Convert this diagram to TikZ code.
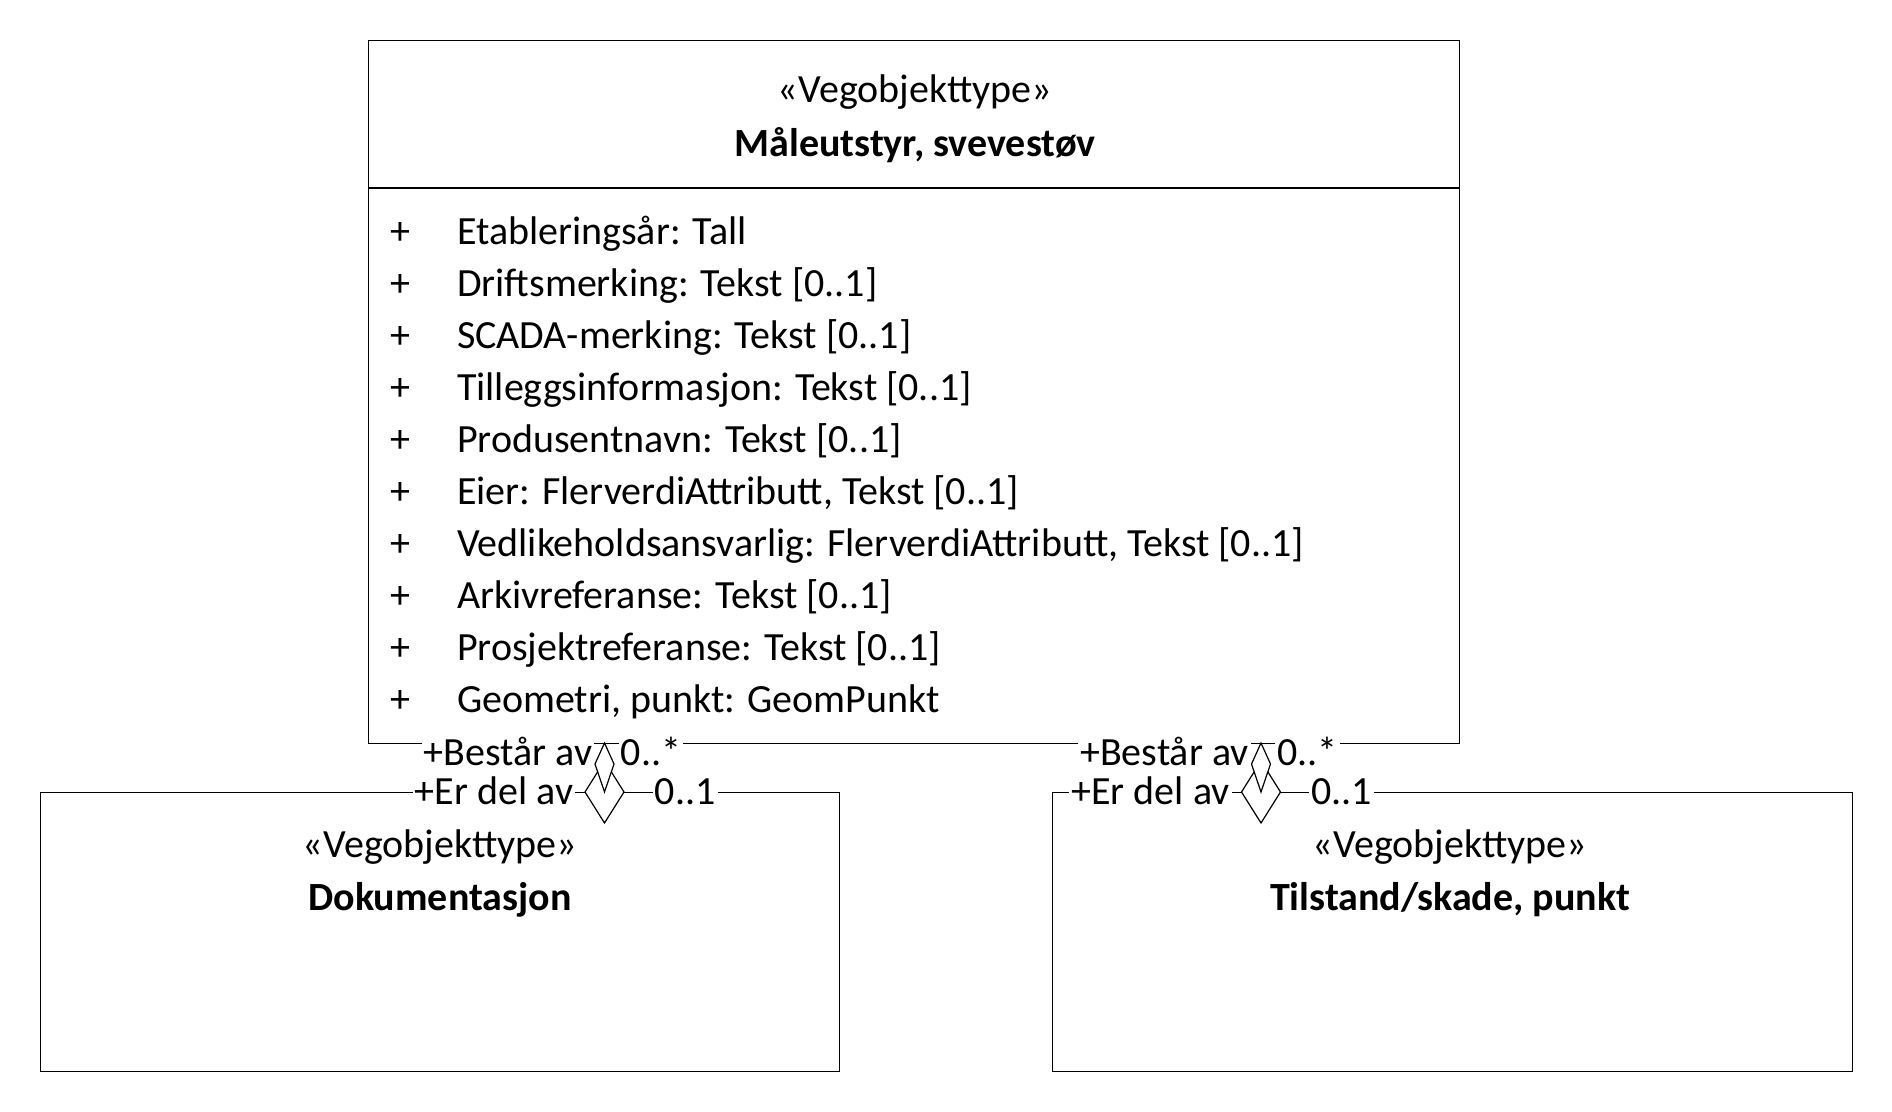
\documentclass[tikz,border=0pt]{standalone}
\usepackage{fontspec}
\setmainfont{Carlito}
\tikzset{
  klasse/.style={draw, line width=0.7pt, anchor=north west, inner sep=0pt},
  rolle/.style={fill=white, inner xsep=1pt, inner ysep=0.5pt},
  diamant/.style={draw, fill=white, line width=0.6pt},
  fet/.style={font=\fontsize{20}{24}\selectfont\bfseries},
}
\begin{document}
\begin{tikzpicture}[x=0.5pt, y=-0.5pt, font=\fontsize{20}{24}\selectfont]
  \useasboundingbox (0,0) rectangle (1892,1112);

  \node [klasse, minimum width=545.5pt, minimum height=351.5pt] (maale) at (368,40) {};
  \node [klasse, minimum width=399.5pt, minimum height=139.5pt] (dok) at (40,792) {};
  \node [klasse, minimum width=400pt, minimum height=139.5pt] (tilstand) at (1052,792) {};
  \draw [line width=0.7pt] (maale.west |- 0,188) -- (maale.east |- 0,188);

  \node [anchor=base] (stereo) at (915,103) {«Vegobjekttype»};
  \node [anchor=base, fet] (tittel) at (915,157) {Måleutstyr, svevestøv};
  \foreach \attr [count=\i from 0] in {{Etableringsår: Tall}, {Driftsmerking: Tekst [0..1]},
      {SCADA-merking: Tekst [0..1]}, {Tilleggsinformasjon: Tekst [0..1]},
      {Produsentnavn: Tekst [0..1]}, {Eier: FlerverdiAttributt, Tekst [0..1]},
      {Vedlikeholdsansvarlig: FlerverdiAttributt, Tekst [0..1]},
      {Arkivreferanse: Tekst [0..1]}, {Prosjektreferanse: Tekst [0..1]},
      {Geometri, punkt: GeomPunkt}} {
    \node [anchor=base] (pluss\i) at (400,244.5+52*\i) {+};
    \node [anchor=base west] (attr\i) at (450,244.5+52*\i) {\attr};
  }

  \node [anchor=base] (dokstereo) at (440,857) {«Vegobjekttype»};
  \node [anchor=base, fet] (doknavn) at (440,910) {Dokumentasjon};
  \node [anchor=base] (tilstereo) at (1450,857) {«Vegobjekttype»};
  \node [anchor=base, fet] (tilnavn) at (1450,910) {Tilstand/skade, punkt};

  \foreach \cx/\barn in {604.5/dok, 1261/tilstand} {
    \draw (maale.south -| \cx,0) -- (\barn.north -| \cx,0);
    \draw [diamant] (\cx-19.5,792) -- (\cx,761) -- (\cx+19.5,792) -- (\cx,823) -- cycle;
    \draw [diamant] (\cx,743) -- (\cx-9.5,764) -- (\cx,792) -- (\cx+9.5,764) -- cycle;
    \node [rolle, anchor=base east] (bestaar\barn) at (\cx-10,765) {+Består av};
    \node [rolle, anchor=base west] (mange\barn) at (\cx+14,765) {0..*};
    \node [rolle, anchor=base east] (erdel\barn) at (\cx-29,804) {+Er del av};
    \node [rolle, anchor=base west] (en\barn) at (\cx+48,804) {0..1};
  }
\end{tikzpicture}
\end{document}
